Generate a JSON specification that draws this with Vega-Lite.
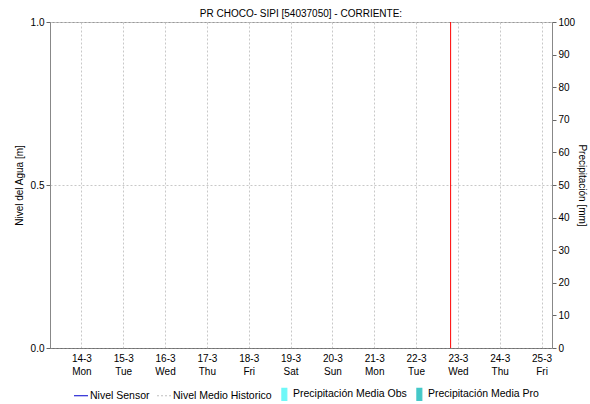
{
  "$schema": "https://vega.github.io/schema/vega-lite/v6.json",
  "width": 502,
  "height": 326,
  "autosize": {"type": "none"},
  "padding": {"left": 50, "top": 22, "right": 38, "bottom": 56},
  "title": {
    "text": "PR CHOCO- SIPI [54037050] - CORRIENTE:",
    "font": "Liberation Sans",
    "fontSize": 10,
    "fontWeight": "normal",
    "color": "#000000",
    "anchor": "middle",
    "offset": -2
  },
  "datasets": {
    "nivel": [
      {"fecha": "2022-03-13T12:00:00Z", "serie": "Nivel Sensor", "nivel": null},
      {"fecha": "2022-03-13T12:00:00Z", "serie": "Nivel Medio Historico", "nivel": null}
    ],
    "precip": [
      {"fecha": "2022-03-14T00:00:00Z", "serie": "Precipitación Media Obs", "mm": 0},
      {"fecha": "2022-03-15T00:00:00Z", "serie": "Precipitación Media Obs", "mm": 0},
      {"fecha": "2022-03-16T00:00:00Z", "serie": "Precipitación Media Obs", "mm": 0},
      {"fecha": "2022-03-17T00:00:00Z", "serie": "Precipitación Media Obs", "mm": 0},
      {"fecha": "2022-03-18T00:00:00Z", "serie": "Precipitación Media Obs", "mm": 0},
      {"fecha": "2022-03-19T00:00:00Z", "serie": "Precipitación Media Obs", "mm": 0},
      {"fecha": "2022-03-20T00:00:00Z", "serie": "Precipitación Media Obs", "mm": 0},
      {"fecha": "2022-03-21T00:00:00Z", "serie": "Precipitación Media Obs", "mm": 0},
      {"fecha": "2022-03-22T00:00:00Z", "serie": "Precipitación Media Obs", "mm": 0},
      {"fecha": "2022-03-23T00:00:00Z", "serie": "Precipitación Media Pro", "mm": 0},
      {"fecha": "2022-03-24T00:00:00Z", "serie": "Precipitación Media Pro", "mm": 0},
      {"fecha": "2022-03-25T00:00:00Z", "serie": "Precipitación Media Pro", "mm": 0}
    ],
    "ahora": [
      {"fecha": "2022-03-22T19:50:00Z"}
    ]
  },
  "encoding": {
    "x": {
      "field": "fecha",
      "type": "temporal",
      "title": null,
      "scale": {
        "type": "utc",
        "padding": 0,
        "domain": [
          {"year": 2022, "month": 3, "date": 13, "hours": 6, "utc": true},
          {"year": 2022, "month": 3, "date": 25, "hours": 6, "utc": true}
        ]
      },
      "axis": {
        "values": [
          {"year": 2022, "month": 3, "date": 14, "utc": true},
          {"year": 2022, "month": 3, "date": 15, "utc": true},
          {"year": 2022, "month": 3, "date": 16, "utc": true},
          {"year": 2022, "month": 3, "date": 17, "utc": true},
          {"year": 2022, "month": 3, "date": 18, "utc": true},
          {"year": 2022, "month": 3, "date": 19, "utc": true},
          {"year": 2022, "month": 3, "date": 20, "utc": true},
          {"year": 2022, "month": 3, "date": 21, "utc": true},
          {"year": 2022, "month": 3, "date": 22, "utc": true},
          {"year": 2022, "month": 3, "date": 23, "utc": true},
          {"year": 2022, "month": 3, "date": 24, "utc": true},
          {"year": 2022, "month": 3, "date": 25, "utc": true}
        ],
        "labelExpr": "[utcFormat(datum.value, '%-d-%-m'), utcFormat(datum.value, '%a')]",
        "labelAngle": 0,
        "labelBaseline": "top",
        "labelPadding": 5,
        "labelLineHeight": 13,
        "labelFont": "Liberation Sans",
        "labelFontSize": 10,
        "labelColor": "#000000",
        "ticks": false,
        "grid": true,
        "gridDash": [2, 2],
        "gridColor": "#c8c8c8",
        "domain": true,
        "domainColor": "#444444",
        "domainDash": [1, 1],
        "labelFlush": false,
        "labelOverlap": false
      }
    }
  },
  "layer": [
    {
      "data": {"name": "nivel"},
      "mark": {"type": "point", "filled": true, "opacity": 1},
      "encoding": {
        "y": {
          "field": "nivel",
          "type": "quantitative",
          "title": "Nivel del Agua [m]",
          "scale": {"domain": [0, 1], "nice": false, "zero": false},
          "axis": {
            "orient": "left",
            "values": [0, 0.5, 1],
            "format": ".1f",
            "grid": true,
            "gridDash": [2, 2],
            "gridColor": "#c8c8c8",
            "tickSize": 4,
            "tickColor": "#666666",
            "domainColor": "#888888",
            "labelFont": "Liberation Sans",
            "labelFontSize": 10,
            "labelColor": "#000000",
            "labelPadding": 2,
            "titleFont": "Liberation Sans",
            "titleFontSize": 10,
            "titleFontWeight": "normal",
            "titleColor": "#000000",
            "titlePadding": 6
          }
        },
        "fill": {
          "field": "serie",
          "type": "nominal",
          "scale": {
            "domain": ["Nivel Sensor", "Nivel Medio Historico", "Precipitación Media Obs", "Precipitación Media Pro"],
            "range": ["#0000cd", "#c0c0c0", "#6ff8f8", "#44c8c8"]
          },
          "legend": {"title": null}
        },
        "stroke": {
          "field": "serie",
          "type": "nominal",
          "scale": {
            "domain": ["Nivel Sensor", "Nivel Medio Historico", "Precipitación Media Obs", "Precipitación Media Pro"],
            "range": ["#0000cd", "#c0c0c0", "#6ff8f8", "#44c8c8"]
          },
          "legend": {"title": null}
        },
        "shape": {
          "field": "serie",
          "type": "nominal",
          "scale": {
            "domain": ["Nivel Sensor", "Nivel Medio Historico", "Precipitación Media Obs", "Precipitación Media Pro"],
            "range": ["M-1,0L1,0", "M-1,0L1,0", "M-0.3,-0.85L0.4,-0.85L0.4,0.85L-0.3,0.85Z", "M-0.3,-0.85L0.4,-0.85L0.4,0.85L-0.3,0.85Z"]
          },
          "legend": {"title": null}
        },
        "strokeDash": {
          "field": "serie",
          "type": "nominal",
          "scale": {
            "domain": ["Nivel Sensor", "Nivel Medio Historico", "Precipitación Media Obs", "Precipitación Media Pro"],
            "range": [[1, 0], [2, 2], [1, 0], [1, 0]]
          },
          "legend": {"title": null}
        }
      }
    },
    {
      "data": {"name": "precip"},
      "mark": {"type": "bar"},
      "encoding": {
        "y": {
          "field": "mm",
          "type": "quantitative",
          "title": "Precipitación [mm]",
          "scale": {"domain": [0, 100], "nice": false},
          "axis": {
            "orient": "right",
            "values": [0, 10, 20, 30, 40, 50, 60, 70, 80, 90, 100],
            "format": "d",
            "grid": false,
            "tickSize": 4,
            "tickColor": "#666666",
            "domainColor": "#888888",
            "labelFont": "Liberation Sans",
            "labelFontSize": 10,
            "labelColor": "#000000",
            "labelPadding": 2,
            "titleFont": "Liberation Sans",
            "titleFontSize": 10,
            "titleFontWeight": "normal",
            "titleColor": "#000000",
            "titlePadding": 2
          }
        },
        "fill": {"field": "serie", "type": "nominal"}
      }
    },
    {
      "data": {"name": "ahora"},
      "mark": {"type": "rule", "color": "#ff0000", "strokeWidth": 1},
      "encoding": {}
    }
  ],
  "resolve": {"scale": {"y": "independent"}},
  "config": {
    "view": {"stroke": "#999999"},
    "legend": {
      "orient": "none",
      "legendX": 23,
      "legendY": 364,
      "direction": "horizontal",
      "symbolSize": 196,
      "symbolStrokeWidth": 1.2,
      "symbolOpacity": 1,
      "labelFont": "Liberation Sans",
      "labelFontSize": 10.5,
      "labelColor": "#000000",
      "labelOffset": 1,
      "columnPadding": 4
    }
  }
}
